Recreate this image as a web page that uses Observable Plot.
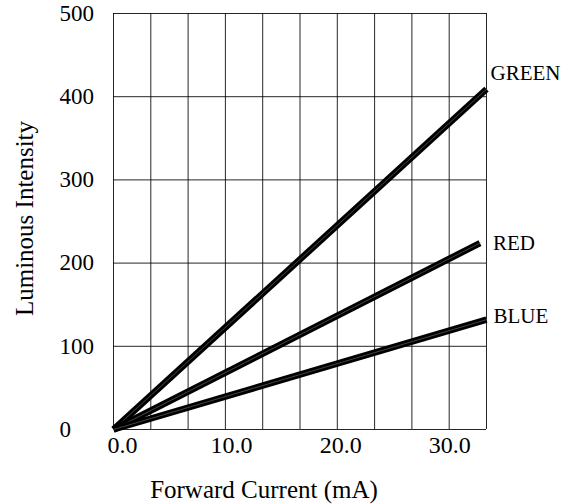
<!DOCTYPE html>
<html>
<head>
<meta charset="utf-8">
<script src="https://cdn.jsdelivr.net/npm/d3@7"></script>
<script src="https://cdn.jsdelivr.net/npm/@observablehq/plot@0.6"></script>
<style>
  html, body { margin: 0; padding: 0; background: #fff; }
  #chart svg { display: block; }
</style>
</head>
<body>
<div id="chart"></div>
<script>
// ---- data ----
const xMax = 34.2;                       // right edge of the grid (mA)
const yTicks = [0, 100, 200, 300, 400, 500];
const xTicks = [0, 10, 20, 30];
const xTickLabels = ["0.0", "10.0", "20.0", "30.0"];

const greenCurrent = [0, 34.2];
const greenIntensity = [0, 409];
const redCurrent = [0, 33.6];
const redIntensity = [0, 224];
const blueCurrent = [0, 34.2];
const blueIntensity = [0, 132];

const seriesNames = ["GREEN", "RED", "BLUE"];

const toRows = (xs, ys, name) => xs.map((x, i) => ({x, y: ys[i], name}));
const green = toRows(greenCurrent, greenIntensity, seriesNames[0]);
const red = toRows(redCurrent, redIntensity, seriesNames[1]);
const blue = toRows(blueCurrent, blueIntensity, seriesNames[2]);
const xGrid = d3.range(11).map(i => i * xMax / 10);

const FONT = "Liberation Serif";

const lineMarks = (rows) => [
  Plot.line(rows, {x: "x", y: "y", stroke: "#000", strokeWidth: 6.5, strokeLinecap: "butt"}),
  Plot.line(rows, {x: "x", y: "y", stroke: "#555", strokeWidth: 0.8})
];

const chart = Plot.plot({
  width: 574,
  height: 504,
  marginLeft: 113,
  marginRight: 88,
  marginTop: 13,
  marginBottom: 75,
  style: {fontFamily: FONT, background: "#fff"},
  x: {domain: [0, xMax], axis: null},
  y: {domain: [0, 500], axis: null},
  marks: [
    Plot.ruleX(xGrid, {stroke: "#000", strokeWidth: 1, strokeOpacity: 0.85}),
    Plot.ruleY(yTicks, {stroke: "#000", strokeWidth: 1, strokeOpacity: 0.85}),
    Plot.text(xTicks, {
      x: d => d, frameAnchor: "bottom", textAnchor: "middle", lineAnchor: "top",
      dx: 9, dy: 6, fontSize: 24, fontFamily: FONT, fill: "#000",
      text: (d, i) => xTickLabels[i]
    }),
    Plot.text(yTicks, {
      y: d => d, frameAnchor: "left", textAnchor: "start", lineAnchor: "middle",
      dx: -54, fontSize: 23, fontFamily: FONT, fill: "#000",
      text: d => String(d)
    }),
    ...lineMarks(green),
    ...lineMarks(red),
    ...lineMarks(blue),
    Plot.text([green[1]], {x: "x", y: "y", text: "name", textAnchor: "start", dx: 4, dy: -16, fontSize: 21, fontFamily: FONT}),
    Plot.text([red[1]], {x: "x", y: "y", text: "name", textAnchor: "start", dx: 13, dy: 0, fontSize: 21, fontFamily: FONT}),
    Plot.text([blue[1]], {x: "x", y: "y", text: "name", textAnchor: "start", dx: 7, dy: -3, fontSize: 21, fontFamily: FONT}),
    Plot.text(["Forward Current (mA)"], {frameAnchor: "bottom", textAnchor: "middle", lineAnchor: "middle", dx: -36, dy: 60, fontSize: 25, fontFamily: FONT}),
    Plot.text(["Luminous Intensity"], {frameAnchor: "left", textAnchor: "middle", lineAnchor: "middle", dx: -89, dy: -3, rotate: -90, fontSize: 25, fontFamily: FONT})
  ]
});
document.getElementById("chart").appendChild(chart);
</script>
</body>
</html>
